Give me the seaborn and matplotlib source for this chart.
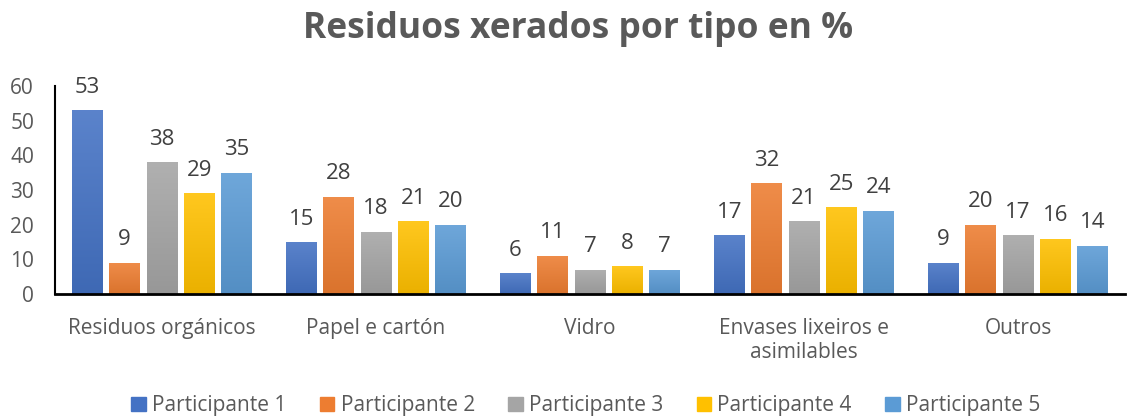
import numpy as np
import pandas as pd
import matplotlib
matplotlib.use("Agg")
import matplotlib.pyplot as plt
import seaborn as sns
from matplotlib.colors import LinearSegmentedColormap, to_rgb

categories = ["Residuos orgánicos", "Papel e cartón", "Vidro", "Envases lixeiros e\nasimilables", "Outros"]
participants = ["Participante 1", "Participante 2", "Participante 3", "Participante 4", "Participante 5"]
p1 = [53, 15, 6, 17, 9]
p2 = [9, 28, 11, 32, 20]
p3 = [38, 18, 7, 21, 17]
p4 = [29, 21, 8, 25, 16]
p5 = [35, 20, 7, 24, 14]
yticks = [0, 10, 20, 30, 40, 50, 60]
colors = ["#4472C4", "#ED7D31", "#A5A5A5", "#FFC000", "#5B9BD5"]

series = [p1, p2, p3, p4, p5]
rows = []
for name, vals in zip(participants, series):
    for c, v in zip(categories, vals):
        rows.append({"cat": c, "part": name, "val": v})
df = pd.DataFrame(rows)

sns.set_style("white")
plt.rcParams['font.family'] = ['Open Sans', 'DejaVu Sans']
txt = "#595959"

fig = plt.figure(figsize=(11.33, 4.19), dpi=100)
ax = fig.add_axes([0.0485, 0.298, 0.9445, 0.497])
sns.barplot(data=df, x="cat", y="val", hue="part", palette=colors,
            width=0.87, gap=0.17, ax=ax, legend=True, saturation=1)

ax.set_ylim(0, 60)
ax.set_yticks(yticks)
ax.set_xlim(-0.5, len(categories) - 0.5)

def shade(c, f):
    r = np.array(to_rgb(c))
    if f > 0:
        return tuple(r + (1 - r) * f)
    return tuple(r * (1 + f))

for container, col in zip(ax.containers, colors):
    for bar in container:
        x0, y0 = bar.get_x(), bar.get_y()
        w, h = bar.get_width(), bar.get_height()
        cmap = LinearSegmentedColormap.from_list("g", [shade(col, -0.08), shade(col, 0.12)])
        grad = np.linspace(0, 1, 100).reshape(-1, 1)
        im = ax.imshow(grad, cmap=cmap, extent=[x0, x0 + w, y0, y0 + h],
                       origin="lower", aspect="auto", zorder=bar.get_zorder() + 0.1)
        im.set_clip_path(bar)
    ax.bar_label(container, padding=9, fontsize=16, color="#404040")

ax.set_xlim(-0.5, len(categories) - 0.5)
ax.set_ylim(0, 60)
ax.set_xlabel("")
ax.set_ylabel("")
ax.tick_params(axis="both", colors=txt, labelsize=15, length=0)
ax.tick_params(axis="x", pad=17)
ax.tick_params(axis="y", pad=15)
for lab in ax.get_xticklabels() + ax.get_yticklabels():
    lab.set_color(txt)
sns.despine(ax=ax)
ax.spines["left"].set_color("black")
ax.spines["left"].set_linewidth(1.5)
ax.spines["bottom"].set_color("black")
ax.spines["bottom"].set_linewidth(2)

ax.legend_.remove()
handles = [plt.Rectangle((0, 0), 1, 1, color=c) for c in colors]
fig.legend(handles, participants, loc="lower center", ncol=5, frameon=False,
           bbox_to_anchor=(0.517, -0.038), fontsize=15, labelcolor=txt,
           handlelength=0.7, handleheight=0.7, handletextpad=0.3, columnspacing=1.6)

fig.text(0.51, 0.93, "Residuos xerados por tipo en %", ha="center", va="center",
         fontsize=25.5, fontweight="bold", color=txt)

fig.savefig("out.png", dpi=100)
